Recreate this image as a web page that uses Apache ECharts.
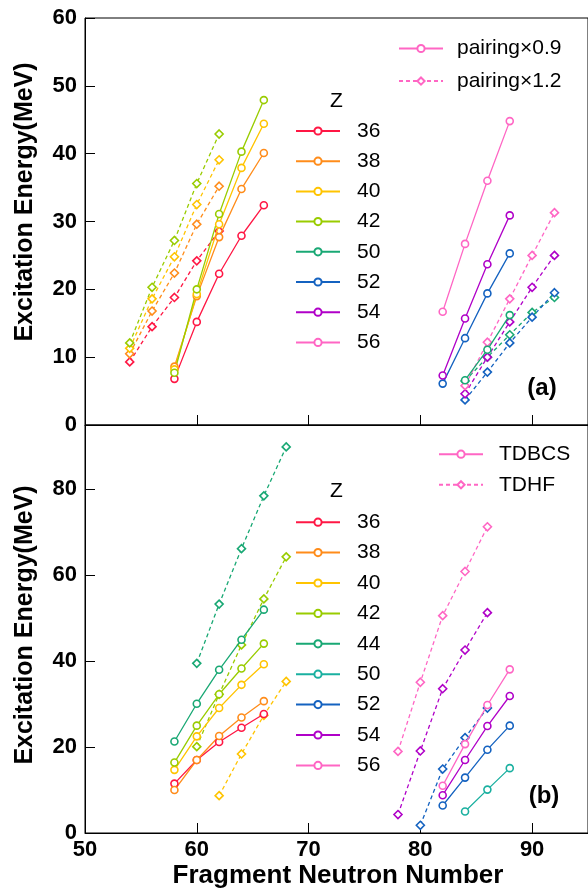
<!DOCTYPE html>
<html>
<head>
<meta charset="utf-8">
<script src="https://cdn.jsdelivr.net/npm/echarts@6/dist/echarts.min.js"></script>
<style>
  html, body { margin: 0; padding: 0; background: #fff; }
  #chart { width: 588px; height: 890px; }
</style>
</head>
<body>
<div id="chart"></div>
<script>
// ---------- Panel (a): pairing strength x0.9 (solid) ----------
const nA09Light = [58, 60, 62, 64, 66];
const a09Z36 = [6.8, 15.2, 22.3, 27.9, 32.4];
const a09Z38 = [8.6, 19.0, 27.7, 34.8, 40.1];
const a09Z40 = [8.2, 19.3, 29.6, 37.9, 44.4];
const a09Z42 = [7.7, 20.0, 31.1, 40.3, 47.9];
const nA09Z50 = [84, 86, 88];
const a09Z50 = [6.6, 11.1, 16.2];
const nA09Heavy = [82, 84, 86, 88];
const a09Z52 = [6.1, 12.8, 19.4, 25.3];
const a09Z54 = [7.3, 15.7, 23.7, 30.9];
const a09Z56 = [16.7, 26.7, 36.0, 44.8];

// ---------- Panel (a): pairing strength x1.2 (dashed) ----------
const nA12Light = [54, 56, 58, 60, 62];
const a12Z36 = [9.3, 14.5, 18.8, 24.2, 28.6];
const a12Z38 = [10.5, 16.8, 22.4, 29.6, 35.2];
const a12Z40 = [11.3, 18.6, 24.8, 32.5, 39.1];
const a12Z42 = [12.1, 20.3, 27.2, 35.6, 42.9];
const nA12Heavy = [84, 86, 88, 90, 92];
const a12Z50 = [6.5, 10.0, 13.3, 16.6, 18.8];
const a12Z52 = [3.7, 7.8, 12.1, 15.9, 19.5];
const a12Z54 = [4.6, 10.0, 15.2, 20.3, 25.0];
const a12Z56 = [5.8, 12.2, 18.6, 25.0, 31.3];

// ---------- Panel (b): TDBCS (solid) ----------
const nBLight = [58, 60, 62, 64, 66];
const bZ36 = [11.5, 17.0, 21.2, 24.5, 27.7];
const bZ38 = [10.0, 17.0, 22.6, 26.9, 30.7];
const bZ40 = [14.7, 22.5, 29.1, 34.5, 39.3];
const bZ42 = [16.4, 25.0, 32.3, 38.3, 44.1];
const bZ44 = [21.3, 30.1, 38.0, 45.0, 52.0];
const nBZ50 = [84, 86, 88];
const bZ50 = [5.0, 10.1, 15.1];
const nBHeavy = [82, 84, 86, 88];
const bZ52 = [6.4, 12.9, 19.4, 25.0];
const bZ54 = [8.8, 17.0, 24.9, 31.9];
const bZ56 = [11.0, 20.7, 29.8, 38.1];

// ---------- Panel (b): TDHF (dashed) ----------
const nHZ40 = [62, 64, 66, 68];
const hZ40 = [8.7, 18.4, 27.4, 35.3];
const nHZ42 = [60, 62, 64, 66, 68];
const hZ42 = [20.1, 32.3, 43.8, 54.5, 64.3];
const hZ44 = [39.5, 53.3, 66.2, 78.5, 89.9];
const nHZ52 = [80, 82, 84, 86];
const hZ52 = [1.8, 14.9, 22.2, 29.1];
const nHHeavy = [78, 80, 82, 84, 86];
const hZ54 = [4.3, 19.1, 33.6, 42.6, 51.3];
const hZ56 = [19.0, 35.1, 50.6, 60.9, 71.3];

// Legend entries
const zListA = ['36', '38', '40', '42', '50', '52', '54', '56'];
const zListB = ['36', '38', '40', '42', '44', '50', '52', '54', '56'];
const styleLegendA = ['pairing×0.9', 'pairing×1.2'];
const styleLegendB = ['TDBCS', 'TDHF'];

// Axis ticks
const xMin = 50, xMax = 95, xStep = 10;
const yAMax = 60, yAStep = 10;
const yBMax = 95, yBStep = 20;

// Colours per proton number
const colA = {
  '36': '#ff1744', '38': '#ff8c1a', '40': '#ffc400', '42': '#99cc00',
  '50': '#19a874', '52': '#1462c0', '54': '#b000c8', '56': '#ff66c4'
};
const colB = {
  '36': '#ff1744', '38': '#ff8c1a', '40': '#ffc400', '42': '#99cc00',
  '44': '#19a874', '50': '#1ab0a0', '52': '#1462c0', '54': '#b000c8', '56': '#ff66c4'
};

const FONT = "'Liberation Sans', Arial, sans-serif";

function zip(ns, es) { return ns.map((n, i) => [n, es[i]]); }

function curve(name, panel, ns, es, color, dashed) {
  return {
    type: 'line',
    name: name,
    xAxisIndex: panel,
    yAxisIndex: panel,
    data: ns && es ? zip(ns, es) : [],
    symbol: dashed ? 'diamond' : 'circle',
    symbolSize: dashed ? 8 : 7,
    showSymbol: true,
    animation: false,
    lineStyle: { color: color, width: 1.3, type: dashed ? [4, 3] : 'solid' },
    itemStyle: { color: '#fff', borderColor: color, borderWidth: 1.6 },
    emphasis: { disabled: true },
    z: dashed ? 2 : 3
  };
}

const series = [
  // (a) solid
  curve('a36', 0, nA09Light, a09Z36, colA['36'], false),
  curve('a38', 0, nA09Light, a09Z38, colA['38'], false),
  curve('a40', 0, nA09Light, a09Z40, colA['40'], false),
  curve('a42', 0, nA09Light, a09Z42, colA['42'], false),
  curve('a50', 0, nA09Z50, a09Z50, colA['50'], false),
  curve('a52', 0, nA09Heavy, a09Z52, colA['52'], false),
  curve('a54', 0, nA09Heavy, a09Z54, colA['54'], false),
  curve('a56', 0, nA09Heavy, a09Z56, colA['56'], false),
  // (a) dashed
  curve('p36', 0, nA12Light, a12Z36, colA['36'], true),
  curve('p38', 0, nA12Light, a12Z38, colA['38'], true),
  curve('p40', 0, nA12Light, a12Z40, colA['40'], true),
  curve('p42', 0, nA12Light, a12Z42, colA['42'], true),
  curve('p50', 0, nA12Heavy, a12Z50, colA['50'], true),
  curve('p52', 0, nA12Heavy, a12Z52, colA['52'], true),
  curve('p54', 0, nA12Heavy, a12Z54, colA['54'], true),
  curve('p56', 0, nA12Heavy, a12Z56, colA['56'], true),
  // (b) solid
  curve('b36', 1, nBLight, bZ36, colB['36'], false),
  curve('b38', 1, nBLight, bZ38, colB['38'], false),
  curve('b40', 1, nBLight, bZ40, colB['40'], false),
  curve('b42', 1, nBLight, bZ42, colB['42'], false),
  curve('b44', 1, nBLight, bZ44, colB['44'], false),
  curve('b50', 1, nBZ50, bZ50, colB['50'], false),
  curve('b52', 1, nBHeavy, bZ52, colB['52'], false),
  curve('b54', 1, nBHeavy, bZ54, colB['54'], false),
  curve('b56', 1, nBHeavy, bZ56, colB['56'], false),
  // (b) dashed
  curve('h40', 1, nHZ40, hZ40, colB['40'], true),
  curve('h42', 1, nHZ42, hZ42, colB['42'], true),
  curve('h44', 1, nHZ42, hZ44, colB['44'], true),
  curve('h52', 1, nHZ52, hZ52, colB['52'], true),
  curve('h54', 1, nHHeavy, hZ54, colB['54'], true),
  curve('h56', 1, nHHeavy, hZ56, colB['56'], true),
  // line-style keys
  curve(styleLegendA[0], 0, null, null, colA['56'], false),
  curve(styleLegendA[1], 0, null, null, colA['56'], true),
  curve(styleLegendB[0], 1, null, null, colB['56'], false),
  curve(styleLegendB[1], 1, null, null, colB['56'], true)
];

function legendBlock(names, left, top, gap, pad, fmt) {
  return {
    orient: 'vertical',
    left: left,
    top: top,
    itemWidth: 44,
    itemHeight: 9,
    itemGap: gap,
    padding: 0,
    selectedMode: false,
    data: names,
    formatter: fmt,
    textStyle: { fontFamily: FONT, fontSize: 21, color: '#000', padding: [0, 0, 0, pad] }
  };
}

const axisLineStyle = { show: true, lineStyle: { color: '#000', width: 1 } };

function xAxisFor(gridIndex, showLabels) {
  return {
    type: 'value', gridIndex: gridIndex, min: xMin, max: xMax, interval: xStep,
    axisLine: axisLineStyle,
    axisTick: { show: true, inside: true, length: 10, lineStyle: { color: '#000' } },
    axisLabel: {
      show: showLabels, margin: 6, showMaxLabel: false,
      fontFamily: FONT, fontSize: 22, fontWeight: 'bold', color: '#000'
    },
    splitLine: { show: false }
  };
}

function yAxisFor(gridIndex, max, step) {
  return {
    type: 'value', gridIndex: gridIndex, min: 0, max: max, interval: step,
    axisLine: axisLineStyle,
    axisTick: { show: true, inside: true, length: 10, lineStyle: { color: '#000' } },
    axisLabel: {
      margin: 8, showMaxLabel: max % step === 0,
      fontFamily: FONT, fontSize: 22, fontWeight: 'bold', color: '#000'
    },
    splitLine: { show: false }
  };
}

const chart = echarts.init(document.getElementById('chart'), null, { renderer: 'canvas' });
chart.setOption({
  backgroundColor: '#fff',
  animation: false,
  grid: [
    { left: 85, top: 18, width: 506, height: 407, show: true, borderColor: '#000', borderWidth: 1 },
    { left: 85, top: 425, width: 506, height: 408, show: true, borderColor: '#000', borderWidth: 1 }
  ],
  xAxis: [xAxisFor(0, false), xAxisFor(1, true)],
  yAxis: [yAxisFor(0, yAMax, yAStep), yAxisFor(1, yBMax, yBStep)],
  legend: [
    legendBlock(zListA.map(z => 'a' + z), 295, 120.5, 9.2, 12, n => n.slice(1)),
    legendBlock(zListB.map(z => 'b' + z), 295, 511.7, 9.4, 12, n => n.slice(1)),
    legendBlock(styleLegendA, 398, 38, 11.6, 9, n => n),
    legendBlock(styleLegendB, 438, 443.7, 9.6, 11, n => n)
  ],
  series: series,
  graphic: [
    { type: 'text', left: 330, top: 91, style: { text: 'Z', font: "21px " + FONT, fill: '#000' } },
    { type: 'text', left: 330, top: 481, style: { text: 'Z', font: "21px " + FONT, fill: '#000' } },
    { type: 'text', x: 542, y: 388, style: { text: '(a)', font: "bold 24px " + FONT, fill: '#000', align: 'center', verticalAlign: 'middle' } },
    { type: 'text', x: 544, y: 796, style: { text: '(b)', font: "bold 24px " + FONT, fill: '#000', align: 'center', verticalAlign: 'middle' } },
    { type: 'text', x: 25, y: 202, rotation: Math.PI / 2, style: { text: 'Excitation Energy(MeV)', font: "bold 25px " + FONT, fill: '#000', align: 'center', verticalAlign: 'middle' } },
    { type: 'text', x: 25, y: 625, rotation: Math.PI / 2, style: { text: 'Excitation Energy(MeV)', font: "bold 25px " + FONT, fill: '#000', align: 'center', verticalAlign: 'middle' } },
    { type: 'text', x: 338, y: 876, style: { text: 'Fragment Neutron Number', font: "bold 26px " + FONT, fill: '#000', align: 'center', verticalAlign: 'middle' } }
  ]
});
</script>
</body>
</html>
